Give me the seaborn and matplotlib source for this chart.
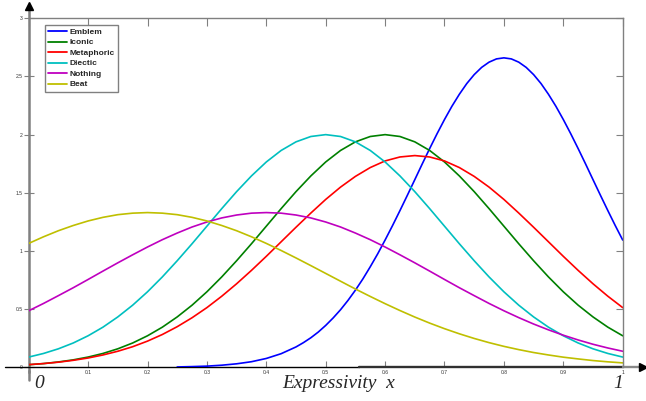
import numpy as np
import pandas as pd
import matplotlib
matplotlib.use("Agg")
import matplotlib.pyplot as plt
import seaborn as sns

# ---------------- data ----------------
x_grid = [0.0, 0.025, 0.05, 0.075, 0.1, 0.125, 0.15, 0.175, 0.2, 0.225,
          0.25, 0.275, 0.3, 0.325, 0.35, 0.375, 0.4, 0.425, 0.45, 0.475,
          0.5, 0.525, 0.55, 0.575, 0.6, 0.625, 0.65, 0.675, 0.7, 0.725,
          0.75, 0.775, 0.8, 0.825, 0.85, 0.875, 0.9, 0.925, 0.95, 0.975, 1.0]

x_emblem = [0.25, 0.275, 0.3, 0.325, 0.35, 0.375, 0.4, 0.425, 0.45, 0.4625,
            0.475, 0.4875, 0.5, 0.5125, 0.525, 0.5375, 0.55, 0.5625, 0.575,
            0.5875, 0.6, 0.6125, 0.625, 0.6375, 0.65, 0.6625, 0.675, 0.6875,
            0.7, 0.7125, 0.725, 0.7375, 0.75, 0.7625, 0.775, 0.7875, 0.8,
            0.8125, 0.825, 0.8375, 0.85, 0.8625, 0.875, 0.8875, 0.9, 0.9125,
            0.925, 0.9375, 0.95, 0.9625, 0.975, 0.9875, 1.0]
emblem = [0.003, 0.006, 0.010, 0.018, 0.030, 0.048, 0.076, 0.117, 0.175, 0.212,
          0.254, 0.303, 0.360, 0.424, 0.495, 0.575, 0.663, 0.759, 0.864,
          0.975, 1.094, 1.218, 1.347, 1.479, 1.613, 1.748, 1.880, 2.008,
          2.130, 2.244, 2.347, 2.439, 2.516, 2.578, 2.623, 2.651, 2.660,
          2.651, 2.623, 2.578, 2.516, 2.439, 2.347, 2.244, 2.130, 2.008,
          1.880, 1.748, 1.613, 1.479, 1.347, 1.218, 1.094]

iconic = [0.022, 0.032, 0.046, 0.064, 0.088, 0.119, 0.159, 0.209, 0.271, 0.345,
          0.433, 0.534, 0.649, 0.777, 0.916, 1.062, 1.213, 1.364, 1.510, 1.645,
          1.765, 1.864, 1.938, 1.984, 2.000, 1.984, 1.938, 1.864, 1.765, 1.645,
          1.510, 1.364, 1.213, 1.062, 0.916, 0.777, 0.649, 0.534, 0.433, 0.345,
          0.271]

metaphoric = [0.023, 0.032, 0.044, 0.060, 0.080, 0.106, 0.138, 0.177, 0.225, 0.282,
              0.349, 0.426, 0.513, 0.611, 0.718, 0.833, 0.954, 1.079, 1.204, 1.326,
              1.443, 1.549, 1.641, 1.717, 1.774, 1.808, 1.820, 1.808, 1.774, 1.717,
              1.641, 1.549, 1.443, 1.326, 1.204, 1.079, 0.954, 0.833, 0.718, 0.611,
              0.513]

diectic = [0.088, 0.119, 0.159, 0.209, 0.271, 0.345, 0.433, 0.534, 0.649, 0.777,
           0.916, 1.062, 1.213, 1.364, 1.510, 1.645, 1.765, 1.864, 1.938, 1.984,
           2.000, 1.984, 1.938, 1.864, 1.765, 1.645, 1.510, 1.364, 1.213, 1.062,
           0.916, 0.777, 0.649, 0.534, 0.433, 0.345, 0.271, 0.209, 0.159, 0.119,
           0.088]

nothing = [0.486, 0.549, 0.616, 0.684, 0.755, 0.827, 0.898, 0.967, 1.034, 1.097,
           1.154, 1.206, 1.249, 1.284, 1.309, 1.325, 1.330, 1.325, 1.309, 1.284,
           1.249, 1.206, 1.154, 1.097, 1.034, 0.967, 0.898, 0.827, 0.755, 0.684,
           0.616, 0.549, 0.486, 0.427, 0.372, 0.322, 0.276, 0.235, 0.198, 0.166,
           0.138]

beat = [1.065, 1.122, 1.174, 1.219, 1.258, 1.289, 1.312, 1.325, 1.330, 1.325,
        1.312, 1.289, 1.258, 1.219, 1.174, 1.122, 1.065, 1.004, 0.940, 0.874,
        0.807, 0.740, 0.673, 0.609, 0.547, 0.488, 0.432, 0.380, 0.332, 0.288,
        0.248, 0.212, 0.180, 0.152, 0.127, 0.106, 0.087, 0.072, 0.058, 0.047,
        0.038]

names = ["Emblem", "Iconic", "Metaphoric", "Diectic", "Nothing", "Beat"]
colors = ["#0000ff", "#008000", "#ff0000", "#00bfbf", "#bf00bf", "#bfbf00"]

x_ticks = [0, 0.1, 0.2, 0.3, 0.4, 0.5, 0.6, 0.7, 0.8, 0.9, 1]
x_ticklabels = ["0", "0.1", "0.2", "0.3", "0.4", "0.5", "0.6", "0.7", "0.8", "0.9", "1"]
y_ticks = [0, 0.5, 1, 1.5, 2, 2.5, 3]
y_ticklabels = ["0", "0.5", "1", "1.5", "2", "2.5", "3"]

# ---------------- build long table ----------------
frames = [pd.DataFrame({"x": x_emblem, "y": emblem, "gesture": "Emblem"})]
for nm, vals in zip(names[1:], [iconic, metaphoric, diectic, nothing, beat]):
    frames.append(pd.DataFrame({"x": x_grid, "y": vals, "gesture": nm}))
df = pd.concat(frames, ignore_index=True)

sns.set_style("white")
plt.rcParams["font.family"] = ["Liberation Sans", "DejaVu Sans"]

W, H = 646, 401
fig = plt.figure(figsize=(W / 100, H / 100), dpi=100)
x0, x1 = 28.7, 622.7
y0, y1 = 367.3, 18.3
ax = fig.add_axes([x0 / W, 1 - y0 / H, (x1 - x0) / W, (y0 - y1) / H])

sns.lineplot(data=df, x="x", y="y", hue="gesture", hue_order=names,
             palette=dict(zip(names, colors)), linewidth=1.2, ax=ax,
             estimator=None, sort=False, solid_joinstyle="round",
             solid_capstyle="round")

ax.set_xlim(0, 1)
ax.set_ylim(0, 3)
ax.set_xlabel("")
ax.set_ylabel("")
ax.set_xticks(x_ticks)
ax.set_xticklabels(x_ticklabels)
ax.set_yticks(y_ticks)
ax.set_yticklabels(y_ticklabels)
ax.tick_params(axis="x", direction="in", length=4, width=0.8, color="#808080",
               top=False, bottom=True, labelsize=3.6, labelcolor="#333333", pad=2)
ax.tick_params(axis="y", direction="inout", length=7, width=0.8, color="#808080",
               right=False, left=True, labelsize=3.6, labelcolor="#333333", pad=1)

# inward ticks on the top and right edges of the box
secx = ax.secondary_xaxis("top")
secx.set_xticks(x_ticks)
secx.tick_params(direction="in", length=6, width=0.8, color="#808080", labeltop=False)
secx.spines["top"].set_visible(False)
secy = ax.secondary_yaxis("right")
secy.set_yticks(y_ticks)
secy.tick_params(direction="in", length=5, width=0.8, color="#808080", labelright=False)
secy.spines["right"].set_visible(False)

for s in ["top", "right"]:
    ax.spines[s].set_color("#808080")
    ax.spines[s].set_linewidth(1.0)
ax.spines["left"].set_visible(False)
ax.spines["bottom"].set_visible(False)

# extended axes lines with arrows
ax.plot([0, 0], [-0.036, 1.03], transform=ax.transAxes, color="#808080",
        lw=1.8, clip_on=False, zorder=1)
ax.plot([0], [1.035], marker="^", markersize=6, color="black",
        transform=ax.transAxes, clip_on=False, zorder=5)
ax.plot([-0.04, 0.556], [0, 0], transform=ax.transAxes, color="black",
        lw=1.0, clip_on=False, zorder=1)
ax.plot([0.556, 1.0], [0, 0], transform=ax.transAxes, color="#303030",
        lw=1.7, clip_on=False, zorder=1)
ax.plot([1.0, 1.03], [0, 0], transform=ax.transAxes, color="#888888",
        lw=1.7, clip_on=False, zorder=1)
ax.plot([1.035], [0], marker=">", markersize=6, color="black",
        transform=ax.transAxes, clip_on=False, zorder=5)

# legend
handles, labels = ax.get_legend_handles_labels()
leg = ax.legend(handles, labels, loc="upper left",
                bbox_to_anchor=((45 - x0) / (x1 - x0), (y0 - 25) / (y0 - y1)),
                borderaxespad=0, fancybox=False, frameon=True, framealpha=1,
                edgecolor="#808080", prop={"family": "Liberation Sans",
                                           "weight": "bold", "size": 6.0},
                handlelength=2.3, handletextpad=0.25, labelspacing=0.32,
                borderpad=0.38)
leg.get_frame().set_linewidth(1.0)
for line in leg.get_lines():
    line.set_linewidth(1.3)

# large italic axis annotations
serif = {"family": ["Liberation Serif", "DejaVu Serif"], "style": "italic"}
fig.text(39 / W, 1 - 384 / H, "0", ha="center", va="center", fontsize=14, **serif)
fig.text(339 / W, 1 - 383 / H, "Expressivity  x", ha="center", va="center",
         fontsize=14, **serif)
fig.text(618 / W, 1 - 384 / H, "1", ha="center", va="center", fontsize=14, **serif)

fig.savefig("out.png", dpi=100)
